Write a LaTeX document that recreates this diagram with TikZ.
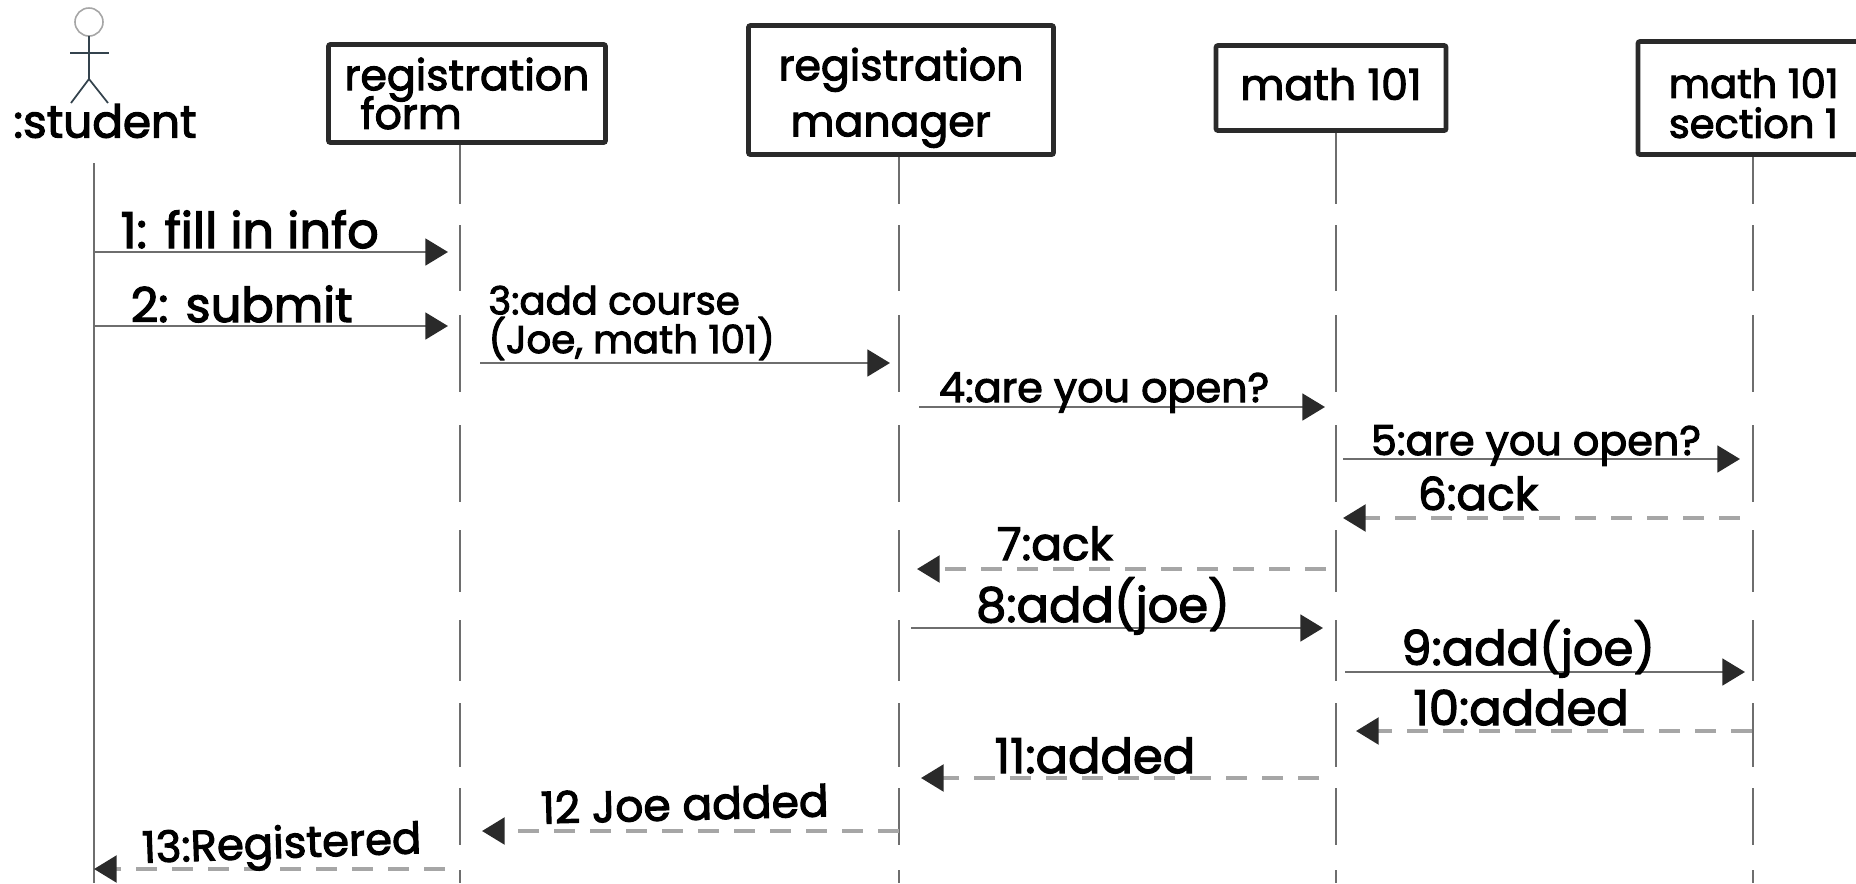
\documentclass[tikz,border=0pt]{standalone}
\usepackage{fontspec}
\setmainfont{Poppins}[FakeBold=2.5]
\usetikzlibrary{arrows.meta,backgrounds,positioning}

\definecolor{inkline}{HTML}{2A2A2A}
\definecolor{lifegray}{HTML}{6E6E6E}
\definecolor{replygray}{HTML}{A6A6A6}
\definecolor{stickline}{HTML}{34434D}

\tikzset{
    objbox/.style={draw=inkline,line width=3.6pt,fill=white,rounded corners=1.5pt,
        outer sep=0pt,inner sep=0pt,align=left,font=\fontsize{#1}{#1}\selectfont},
    objbox/.default=32,
    lifeline/.style={draw=lifegray,line width=1.8pt,dash pattern=on 78pt off 15.75pt
        on 49.5pt off 18pt on 57.75pt off 24.75pt on 57.75pt off 21pt on 46.5pt off 21pt
        on 45.75pt off 16.5pt on 48pt off 15.75pt on 42.75pt off 18.75pt on 75pt},
    lifesolid/.style={draw=lifegray,line width=1.8pt},
    call/.style={draw=lifegray,line width=2.2pt,
        -{Triangle[length=17pt,width=20pt,color=inkline]}},
    reply/.style={draw=replygray,line width=2.6pt,dash pattern=on 16pt off 11pt,
        -{Triangle[length=17pt,width=20pt,color=inkline]}},
    note/.style={anchor=base,inner sep=0pt,font=\fontsize{#1}{#1}\selectfont,black},
    note/.default=36,
    stick/.style={draw=stickline,line width=1.3pt},
}

\begin{document}
\begin{tikzpicture}[x=0.75pt,y=-0.75pt]
    \useasboundingbox (0,0) rectangle (1856,883);

    % objects along the top
    \node[objbox,minimum width=207.75pt,minimum height=73.5pt] (form) at (467,93.5)
        {registration\\[-5pt]\hspace*{12pt}form};
    \node[objbox=32,minimum width=228.75pt,minimum height=96.75pt] (manager)
        [right=107.25pt of form,yshift=2.6pt] {\rule{0pt}{36pt}registration\\[10pt]\hspace*{9pt}manager};
    \node[objbox,minimum width=172.5pt,minimum height=63.75pt] (math)
        [right=121.9pt of manager,yshift=1.5pt] {math 101\\[-26pt]\mbox{}};
    \node[objbox=30,minimum width=173.6pt,minimum height=84.75pt] (section)
        [right=144pt of math,yshift=-7.5pt] {\rule{0pt}{30pt}math 101\\section 1};

    % the actor
    \node[circle,draw=replygray,line width=1.2pt,minimum size=21pt,inner sep=0pt,outer sep=0pt] (head) at (89,22) {};
    \coordinate (hip) at (89,79);
    \coordinate (arm left) at (70,53);
    \coordinate (arm right) at (109,53);
    \coordinate (leg left) at (71,103);
    \coordinate (leg right) at (108,103);
    \draw[stick] (head) -- (hip) -- (leg left);
    \draw[stick] (hip) -- (leg right);
    \draw[stick] (arm left) -- (arm right);
    \node[inner sep=0pt,font=\fontsize{34}{34}\selectfont] (student) at (105,121) {:student};

    % ends of the lifelines
    \coordinate (student top) at (94,163);
    \coordinate (student end) at (94,883);
    \coordinate (form top) at (460,100);
    \coordinate (form end) at (460,883);
    \coordinate (manager top) at (899,100);
    \coordinate (manager end) at (899,883);
    \coordinate (math top) at (1336,100);
    \coordinate (math end) at (1336,883);
    \coordinate (section top) at (1753,100);
    \coordinate (section end) at (1753,883);

    \begin{scope}[on background layer]
    \draw[lifesolid] (student top) -- (student end);
    \draw[lifeline] (form top) -- (form end);
    \draw[lifeline] (manager top) -- (manager end);
    \draw[lifeline] (math top) -- (math end);
    \draw[lifeline] (section top) -- (section end);
    \end{scope}

    % ends of the messages
    \coordinate (fill from) at (94,252);
    \coordinate (fill to) at (448,252);
    \coordinate (submit from) at (94,326);
    \coordinate (submit to) at (448,326);
    \coordinate (course from) at (480,363);
    \coordinate (course to) at (890,363);
    \coordinate (open from) at (919,407);
    \coordinate (open to) at (1325,407);
    \coordinate (sec open from) at (1343,459);
    \coordinate (sec open to) at (1740,459);
    \coordinate (sec ack from) at (1740,518);
    \coordinate (sec ack to) at (1343,518);
    \coordinate (ack from) at (1326,569);
    \coordinate (ack to) at (917,569);
    \coordinate (add from) at (911,628);
    \coordinate (add to) at (1323,628);
    \coordinate (sec add from) at (1345,672);
    \coordinate (sec add to) at (1745,672);
    \coordinate (sec added from) at (1752,731);
    \coordinate (sec added to) at (1356,731);
    \coordinate (added from) at (1319,778);
    \coordinate (added to) at (921,778);
    \coordinate (joe from) at (899,831);
    \coordinate (joe to) at (482,831);
    \coordinate (done from) at (445,869);
    \coordinate (done to) at (94,869);

    \path (fill from) edge [call] node[note=37,pos=.44,yshift=3pt] (fill) {1: fill in info} (fill to);
    \path (submit from) edge [call] node[note,pos=.417,yshift=3pt] (submit) {2: submit} (submit to);
    \path (course from) edge [call] node[note=29,pos=.37,anchor=south,align=left,yshift=1pt] (course)
        {3:add course\\(Joe, math 101)} (course to);
    \path (open from) edge [call] node[note=31,pos=.456,yshift=3.75pt] (open) {4:are you open?} (open to);
    \path (sec open from) edge [call] node[note=31,pos=.486,yshift=3pt] (sec open) {5:are you open?} (sec open to);
    \path (sec ack from) edge [reply] node[note=34,pos=.66,yshift=6pt] (sec ack) {6:ack} (sec ack to);
    \path (ack from) edge [reply] node[note=34,pos=.663,yshift=6.75pt] (ack) {7:ack} (ack to);
    \path (add from) edge [call] node[note,pos=.466,yshift=4.5pt] (add) {8:add(joe)} (add to);
    \path (sec add from) edge [call] node[note,pos=.458,yshift=5.25pt] (sec add) {9:add(joe)} (sec add to);
    \path (sec added from) edge [reply] node[note,pos=.583,yshift=4.5pt] (sec added) {10:added} (sec added to);
    \path (added from) edge [reply] node[note,pos=.563,yshift=3.75pt] (added) {11:added} (added to);
    \path (joe from) edge [reply] node[note=33,pos=.513,yshift=8.25pt,rotate=1.5] (joe) {12 Joe added} (joe to);
    \path (done from) edge [reply] node[note=32.5,pos=.464,yshift=8.25pt,rotate=2] (done) {13:Registered} (done to);
\end{tikzpicture}
\end{document}
